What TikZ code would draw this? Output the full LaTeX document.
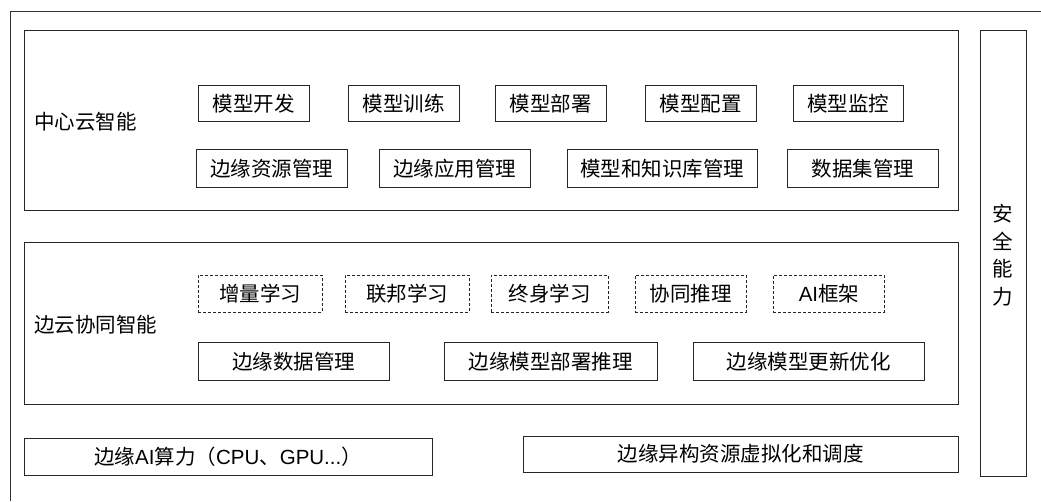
\documentclass[tikz,border=0pt]{standalone}
\usepackage{fontspec}
\setmainfont{Noto Sans CJK SC}
\newfontfamily\latfont{Liberation Sans}
\newcommand\bfs{\fontsize{20.5}{24}\selectfont}
\begin{document}
\begin{tikzpicture}[x=1pt,y=-1pt,
  frame/.style={draw=black!80,line width=0.9pt},
  box/.style={draw=black!85,line width=0.9pt,inner sep=0pt,anchor=north west},
  dbox/.style={box,dashed,dash pattern=on 3pt off 2pt},
  txt/.style={font=\bfs,inner sep=0pt},
  lbl/.style={font=\bfs,anchor=west,inner sep=0pt}]
\useasboundingbox (0,0) rectangle (1041,501);
% outer frame (cropped)
\coordinate (otl) at (10,11);
\coordinate (otr) at (1041,11);
\coordinate (obl) at (10,501);
\draw[frame] (otr) -- (otl) -- (obl);
% layer boxes
\node[box,minimum width=934pt,minimum height=180pt] (cloud) at (24,30) {};
\node[box,minimum width=934pt,minimum height=162pt] (edge) at (24,242) {};
\node[box,minimum width=46pt,minimum height=446pt] (sec) at (980,30) {};
\node[font=\fontsize{20.5}{27.5}\selectfont,align=center,inner sep=0pt] (secl) at (1003,255) {安\\全\\能\\力};
\node[box,minimum width=408pt,minimum height=37pt] (compute) at (24,438) {};
\node[txt] (computel) at (228,456.5) {边缘{\latfont AI}算力（{\latfont CPU}、{\latfont GPU...}）};
\node[box,minimum width=435pt,minimum height=36pt] (virt) at (523,436) {};
\node[txt] (virtl) at (740.5,454) {边缘异构资源虚拟化和调度};
% labels
\node[lbl] (cloudl) at (34,122) {中心云智能};
\node[lbl] (edgel) at (34,325) {边云协同智能};
% cloud row 1
\node[box,minimum width=111pt,minimum height=36pt] (c1) at (198,85) {};
\node[txt] (c1t) at (c1.center) {模型开发};
\node[box,minimum width=111pt,minimum height=36pt] (c2) at (348,85) {};
\node[txt] (c2t) at (c2.center) {模型训练};
\node[box,minimum width=111pt,minimum height=36pt] (c3) at (495,85) {};
\node[txt] (c3t) at (c3.center) {模型部署};
\node[box,minimum width=111pt,minimum height=36pt] (c4) at (645,85) {};
\node[txt] (c4t) at (c4.center) {模型配置};
\node[box,minimum width=110pt,minimum height=36pt] (c5) at (793,85) {};
\node[txt] (c5t) at (c5.center) {模型监控};
% cloud row 2
\node[box,minimum width=151pt,minimum height=38pt] (d1) at (196,149) {};
\node[txt] (d1t) at (d1.center) {边缘资源管理};
\node[box,minimum width=151pt,minimum height=38pt] (d2) at (379,149) {};
\node[txt] (d2t) at (d2.center) {边缘应用管理};
\node[box,minimum width=190pt,minimum height=38pt] (d3) at (567,149) {};
\node[txt] (d3t) at (d3.center) {模型和知识库管理};
\node[box,minimum width=151pt,minimum height=38pt] (d4) at (787,149) {};
\node[txt] (d4t) at (d4.center) {数据集管理};
% edge row 1 (dashed)
\node[dbox,minimum width=124pt,minimum height=37pt] (e1) at (198,275) {};
\node[txt] (e1t) at (e1.center) {增量学习};
\node[dbox,minimum width=124pt,minimum height=37pt] (e2) at (345,275) {};
\node[txt] (e2t) at (e2.center) {联邦学习};
\node[dbox,minimum width=117pt,minimum height=37pt] (e3) at (491,275) {};
\node[txt] (e3t) at (e3.center) {终身学习};
\node[dbox,minimum width=111pt,minimum height=37pt] (e4) at (635,275) {};
\node[txt] (e4t) at (e4.center) {协同推理};
\node[dbox,minimum width=111pt,minimum height=37pt] (e5) at (773,275) {};
\node[txt] (e5t) at (e5.center) {{\latfont AI}框架};
% edge row 2
\node[box,minimum width=191pt,minimum height=38pt] (f1) at (198,342) {};
\node[txt] (f1t) at (f1.center) {边缘数据管理};
\node[box,minimum width=213pt,minimum height=38pt] (f2) at (444,342) {};
\node[txt] (f2t) at (f2.center) {边缘模型部署推理};
\node[box,minimum width=231pt,minimum height=38pt] (f3) at (693,342) {};
\node[txt] (f3t) at (f3.center) {边缘模型更新优化};
\end{tikzpicture}
\end{document}
